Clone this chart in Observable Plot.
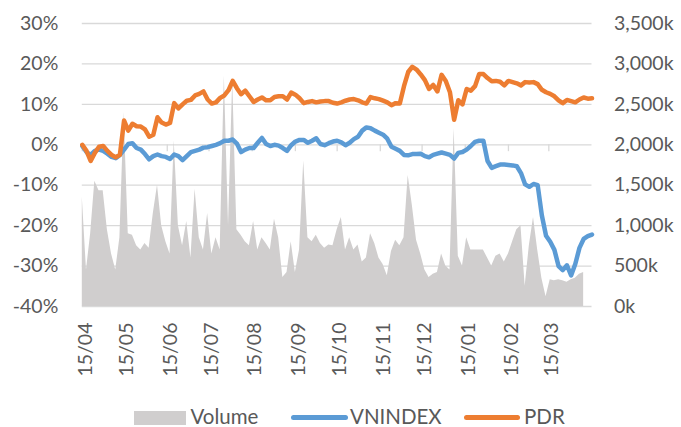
<!DOCTYPE html>
<html>
<head>
<meta charset="utf-8">
<script src="https://cdn.jsdelivr.net/npm/d3@7"></script>
<script src="https://cdn.jsdelivr.net/npm/@observablehq/plot@0.6"></script>
<style>
  html, body { margin: 0; padding: 0; background: #fff; overflow: hidden; }
  #wrap { position: relative; width: 681px; height: 427px; overflow: hidden; font-family: Lato, "Open Sans", sans-serif; color: #595959; }
  #legend { position: absolute; left: 0; top: 0; width: 681px; height: 427px; pointer-events: none; }
  .it { position: absolute; }
  .txt { font-size: 20.5px; line-height: 20px; top: 406px; white-space: nowrap; }
</style>
</head>
<body>
<div id="wrap">
  <div id="chart"></div>
  <div id="legend">
    <div class="it" style="left:134px;top:410.5px;width:52px;height:14px;background:#d0cece"></div>
    <div class="it txt" style="left:190.5px">Volume</div>
    <div class="it" style="left:291px;top:415px;width:57px;height:5px;border-radius:3px;background:#5b9bd5"></div>
    <div class="it txt" style="left:350px">VNINDEX</div>
    <div class="it" style="left:464px;top:415px;width:56px;height:5px;border-radius:3px;background:#ed7d31"></div>
    <div class="it txt" style="left:524px">PDR</div>
  </div>
</div>
<script>
// ---- data (one value every 3 calendar days from 15/04/2019) ----
const startDate = new Date(2019, 3, 15);
const stepDays = 3;

// VNINDEX change vs 15/04/2019, %
const vnindex = [
  -0.3,-1.8,-2.5,-1.5,-1.2,-1.5,-2.2,-3.0,-3.3,-2.5,
  -1.2,0.2,0.4,-0.8,-1.2,-2.3,-3.6,-2.8,-2.4,-2.8,
  -3.0,-3.5,-2.4,-2.8,-3.8,-2.8,-1.8,-1.5,-1.2,-0.7,
  -0.6,-0.3,0.0,0.4,1.0,1.0,1.3,0.3,-1.8,-1.2,
  -0.8,-0.8,0.5,1.7,0.2,-0.3,0.0,-0.2,-0.8,-1.5,
  -0.1,0.8,1.2,1.2,0.5,1.0,1.6,0.2,-0.1,0.4,
  0.8,1.0,0.6,-0.1,0.5,1.4,2.0,3.5,4.3,4.1,
  3.5,3.0,2.5,1.5,-0.5,-1.0,-1.5,-2.5,-2.6,-2.3,
  -2.3,-2.2,-2.8,-3.1,-2.5,-2.2,-1.9,-2.2,-2.5,-3.4,
  -2.0,-1.8,-1.2,-0.3,0.7,1.0,1.0,-4.0,-5.7,-5.3,
  -4.9,-4.9,-5.0,-5.1,-5.3,-7.0,-9.8,-10.4,-9.7,-10.0,
  -17.5,-22.5,-24.0,-26.0,-30.0,-31.0,-29.8,-32.3,-29.5,-25.5,
  -23.3,-22.6,-22.2
];

// PDR change vs 15/04/2019, %
const pdr = [
  0.0,-1.5,-4.0,-2.0,-0.5,-0.3,-1.5,-2.5,-3.1,-2.5,
  6.0,3.5,5.2,4.6,4.5,3.8,2.0,2.5,6.8,5.5,
  5.0,5.4,10.3,9.0,10.0,10.9,11.1,12.2,12.6,13.2,
  11.2,10.2,10.5,11.6,12.2,13.5,15.8,14.0,12.5,13.4,
  12.0,10.6,11.2,11.7,11.0,11.0,11.8,12.0,12.0,11.2,
  12.9,12.4,11.5,10.3,10.6,10.8,10.5,10.7,10.8,10.8,
  10.4,10.2,10.5,10.9,11.2,11.3,11.0,10.5,10.2,11.8,
  11.5,11.3,10.9,10.5,9.8,10.3,10.2,14.5,18.0,19.3,
  18.6,17.4,16.0,13.8,14.8,13.2,17.3,15.8,13.0,6.2,
  11.0,10.0,13.8,13.4,14.5,17.5,17.5,16.5,15.7,15.8,
  15.6,14.7,15.8,15.5,15.2,14.7,15.5,15.4,15.5,15.0,
  13.6,13.0,12.6,12.0,11.0,10.3,11.1,10.8,10.5,11.2,
  11.7,11.4,11.5
];

// Volume, thousand shares (right axis)
const volume = [
  1350,450,900,1550,1430,1430,950,650,450,850,
  2400,900,880,750,700,780,720,1150,1500,1000,
  800,650,2050,1000,750,1050,600,1450,850,700,
  1150,650,850,700,2850,1000,2800,950,880,800,
  750,1050,700,850,780,700,1080,850,360,420,
  800,420,700,1800,850,800,880,780,720,760,
  750,950,1100,700,850,700,760,550,600,900,
  780,600,520,380,680,820,750,850,1620,1250,
  820,650,450,360,400,420,650,500,450,2200,
  620,500,850,700,700,700,700,600,500,620,
  650,550,650,800,950,1000,250,750,1100,700,
  350,120,330,320,330,320,300,330,350,400,
  420
];

const pctTicks = [-40, -30, -20, -10, 0, 10, 20, 30];
const volTickLabels = ["0k", "500k", "1,000k", "1,500k", "2,000k", "2,500k", "3,000k", "3,500k"];
const monthTicks = d3.range(12).map(m => new Date(2019, 3 + m, 15));
const endDate = new Date(2020, 3, 15);

// ---- build rows ----
const dateAt = i => d3.timeDay.offset(startDate, i * stepDays);
const lineRows = vnindex.map((v, i) => ({date: dateAt(i), vn: v, pdr: pdr[i]}));
const volRows = volume.map((v, i) => ({date: dateAt(i), vol: v}));
// secondary axis 0..3500k mapped onto primary -40%..30%
const volToPct = v => -40 + v / 3500 * 70;

const chart = Plot.plot({
  width: 681,
  height: 395,
  marginLeft: 81.8,
  marginRight: 89.5,
  marginTop: 23,
  marginBottom: 89,
  x: {type: "time", domain: [startDate, endDate]},
  y: {domain: [-40, 30]},
  style: {fontFamily: "Lato, 'Open Sans', sans-serif", fontSize: "19.5px", color: "#595959", background: "#fff", overflow: "visible"},
  marks: [
    Plot.gridY(pctTicks, {stroke: "#d9d9d9", strokeOpacity: 1, strokeWidth: 1.3}),
    Plot.areaY(volRows, {x: "date", y1: -40, y2: d => volToPct(d.vol), fill: "#d0cece"}),
    Plot.ruleX(monthTicks, {x: d => d, y1: 0, y2: -1.7, stroke: "#d9d9d9", strokeWidth: 1.3}),
    Plot.line(lineRows, {x: "date", y: "vn", stroke: "#5b9bd5", strokeWidth: 4.5, strokeLinejoin: "round", strokeLinecap: "round"}),
    Plot.line(lineRows, {x: "date", y: "pdr", stroke: "#ed7d31", strokeWidth: 4.5, strokeLinejoin: "round", strokeLinecap: "round"}),
    Plot.axisY(pctTicks, {anchor: "left", tickSize: 0, tickPadding: 24, label: null, tickFormat: d => d + "%"}),
    Plot.axisY(pctTicks, {anchor: "right", tickSize: 0, tickPadding: 22, label: null, tickFormat: d => volTickLabels[pctTicks.indexOf(d)]}),
    Plot.axisX(monthTicks, {anchor: "bottom", tickSize: 0, tickPadding: 16, dx: 3, tickRotate: -90, label: null, tickFormat: d3.timeFormat("%d/%m")})
  ]
});
document.getElementById("chart").appendChild(chart);
</script>
</body>
</html>
